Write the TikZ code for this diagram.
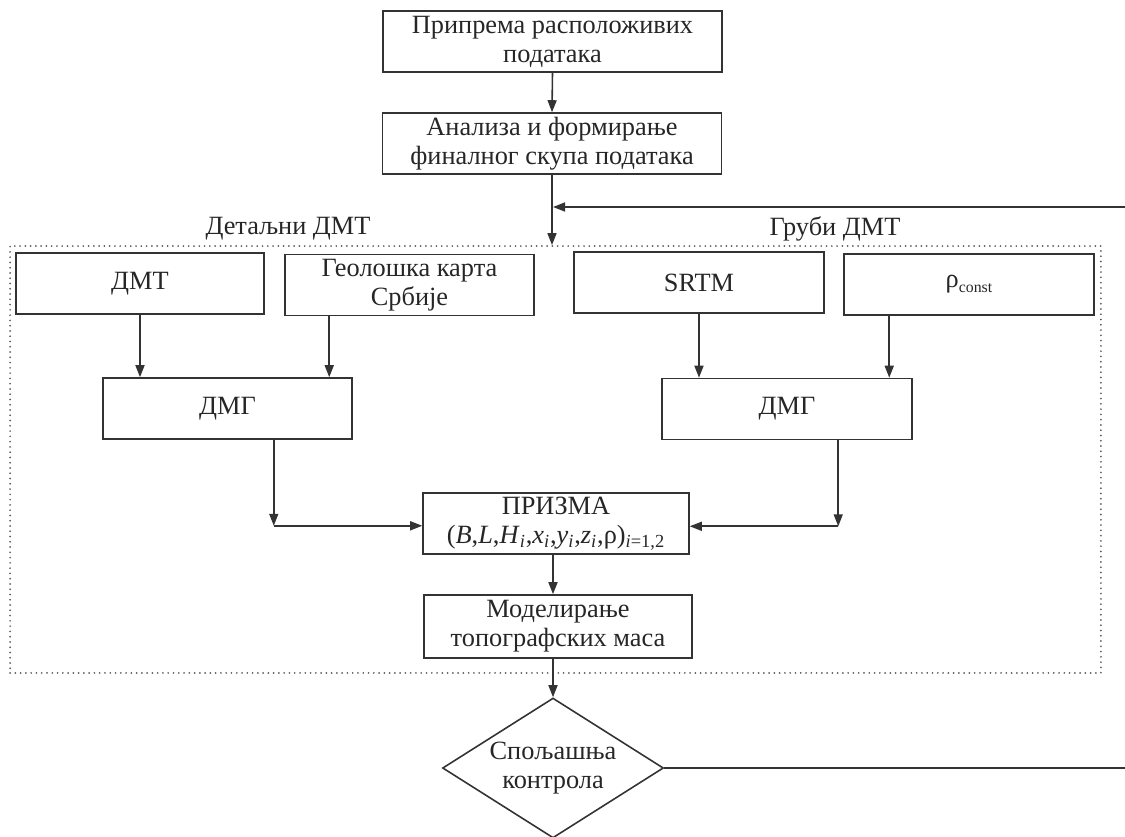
\documentclass[tikz,border=0pt]{standalone}
\usepackage{fontspec}
\setmainfont{Liberation Serif}
\usetikzlibrary{shapes.geometric}
\usetikzlibrary{calc}
\usetikzlibrary{positioning}
\usetikzlibrary{arrows.meta}

\begin{document}
\begin{tikzpicture}[x=0.02cm, y=-0.02cm,
  every node/.style={text=black!85, font=\fontsize{15}{16.5}\selectfont},
  linija/.style={draw=black!80, line width=0.9pt},
  blok/.style={linija, rectangle, align=center, minimum height=1.22cm, inner sep=1pt},
  romb/.style={linija, diamond, aspect=1.58, align=center, minimum width=4.42cm, minimum height=2.8cm, inner sep=0pt},
  okvir/.style={draw=black!65, line width=1.1pt, line cap=round, dash pattern=on 0pt off 3pt, minimum width=21.82cm, minimum height=8.54cm},
  >={Triangle[length=2.4mm,width=1.8mm]}]
\useasboundingbox (0,0) rectangle (1125,837);
\clip (0,0) rectangle (1125,837);
% okvir i natpisi
\node[okvir] (okvir) at (555.5,459.5) {};
\node (detaljni) at (288,229) {Детаљни ДМТ};
\node (grubi) at (835,229) {Груби ДМТ};
% blokovi
\node[blok, minimum width=6.78cm] (priprema) at (552.5,41.5) {Припрема расположивих\\података};
\node[blok, minimum width=6.78cm] (analiza) at (552,143.5) {Анализа и формирање\\финалног скупа података};
\node[blok, minimum width=4.96cm] (dmt) at (140,283.5) {ДМТ};
\node[blok, minimum width=4.98cm] (karta) at (409.5,285) {Геолошка карта\\Србије};
\node[blok, minimum width=5cm] (srtm) at (699,282.5) {SRTM};
\node[blok, minimum width=5cm] (rho) at (969,284.5) {ρ\raisebox{-0.35ex}{\fontsize{9}{10}\selectfont const}};
\node[blok, minimum width=4.98cm] (dmgL) at (227.5,408.5) {ДМГ};
\node[blok, minimum width=5cm] (dmgR) at (787,409) {ДМГ};
\node[blok, minimum width=5.32cm] (prizma) at (556,523.5) {ПРИЗМА\\(\textit{B},\textit{L},\textit{H}\textsubscript{\textit{i}},\textit{x}\textsubscript{\textit{i}},\textit{y}\textsubscript{\textit{i}},\textit{z}\textsubscript{\textit{i}},ρ)\textsubscript{\textit{i}=1,2}};
\node[blok, minimum width=5.36cm, minimum height=1.26cm] (model) at (558,626.5) {Моделирање\\топографских маса};
\node[romb] (kontrola) at (553,768) {Спољашња\\контрола};
% slobodni krajevi
\coordinate (spoj) at (553,207);
\coordinate (desnoG) at (1135,207);
\coordinate (desnoD) at (1135,768);
% veze
\draw[linija, ->] (priprema.south) -- (analiza.north);
\draw[linija, ->] (analiza.south) -- (analiza.south |- okvir.north);
\draw[linija] (kontrola.east) -- (desnoD) -- (desnoG);
\draw[linija, ->] (desnoG) -- (spoj);
\draw[linija, ->] (dmt.south) -- (dmt.south |- dmgL.north);
\draw[linija, ->] ($(karta.south west)+(45,0)$) coordinate (k1) -- (k1 |- dmgL.north);
\draw[linija, ->] (srtm.south) -- (srtm.south |- dmgR.north);
\draw[linija, ->] ($(rho.south west)+(46,0)$) coordinate (k2) -- (k2 |- dmgR.north);
\draw[linija, ->] ($(dmgL.south east)+(-79,0)$) -- ++(0,86) coordinate (kL);
\draw[linija, ->] (kL) -- (kL -| prizma.west);
\draw[linija, ->] ($(dmgR.south west)+(177,0)$) -- ++(0,86) coordinate (kR);
\draw[linija, ->] (kR) -- (kR -| prizma.east);
\draw[linija, ->] (prizma.south -| 553,0) -- (model.north -| 553,0);
\draw[linija, ->] (model.south -| kontrola.north) -- (kontrola.north);
\end{tikzpicture}
\end{document}
